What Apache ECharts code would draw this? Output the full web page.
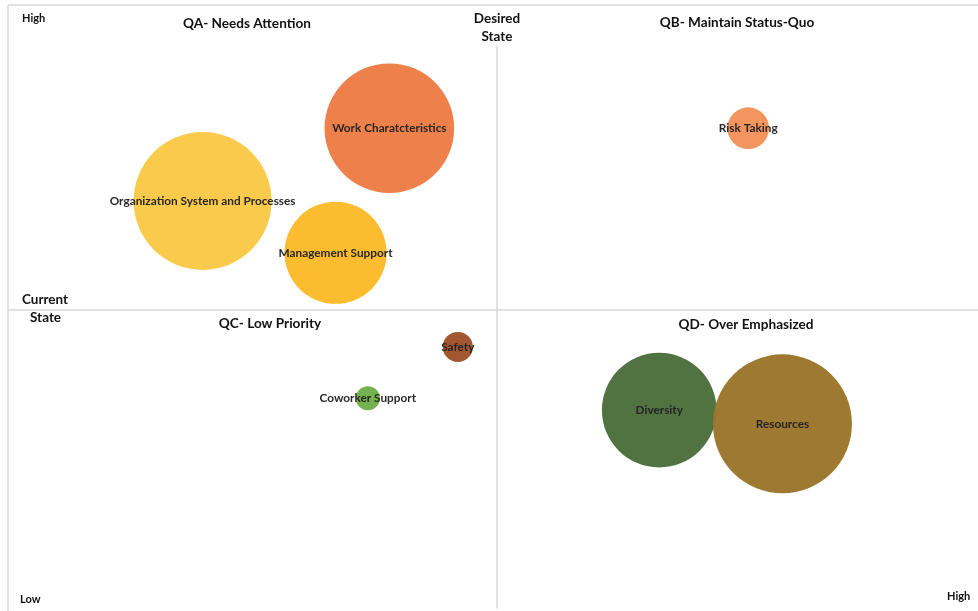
<!DOCTYPE html>
<html>
<head>
<meta charset="utf-8">
<script src="https://cdn.jsdelivr.net/npm/echarts@6/dist/echarts.min.js"></script>
<style>html,body{margin:0;padding:0;background:#fff}#c{width:978px;height:611px}</style>
</head>
<body>
<div id="c"></div>
<script>
// Data
const names = ["Work Charatcteristics","Organization System and Processes","Management Support","Risk Taking","Safety","Coworker Support","Diversity","Resources"];
const desired = [-1.10,-3.01,-1.65,2.57,-0.40,-1.32,1.66,2.92];   // x
const current = [3.05,1.83,0.96,3.05,-0.62,-1.48,-1.68,-1.91];    // y
const sizes = [87,98.6,54,9,4.7,3,68,100];
const colors = ["#ED7D45","#FAC846","#FBBB28","#F4915A","#A0522A","#6EAF46","#4B6E3C","#9B752A"];

const quadrantTitles = [
  {text:"QA- Needs Attention", x:247, y:24},
  {text:"QB- Maintain Status-Quo", x:737, y:23},
  {text:"QC- Low Priority", x:270, y:324},
  {text:"QD- Over Emphasized", x:746, y:325}
];

const chart = echarts.init(document.getElementById('c'));
const data = names.map((n,i)=>({name:n, value:[desired[i], current[i], sizes[i]], itemStyle:{color:colors[i]}}));

const lineColor = '#D9D9D9';
const txt = (t,x,y,size,align)=>({type:'text', x:x, y:y, silent:true, z:10,
  style:{text:t, fill:'#111', font:'bold '+size+'px Lato', textAlign:align||'center', textVerticalAlign:'middle'}});

chart.setOption({
  animation:false,
  grid:{left:8, right:0, top:12, bottom:3, show:false},
  xAxis:{type:'value', min:-5, max:4.92, axisLine:{onZero:true, lineStyle:{color:lineColor, width:1.5}},
    axisTick:{show:false}, axisLabel:{show:false}, splitLine:{show:false}},
  yAxis:{type:'value', min:-5, max:5, axisLine:{onZero:true, lineStyle:{color:lineColor, width:1.5}},
    axisTick:{show:false}, axisLabel:{show:false}, splitLine:{show:false}},
  series:[{
    type:'scatter',
    data:data,
    symbolSize:(v)=>139*Math.sqrt(v[2]/100),
    itemStyle:{opacity:0.97},
    label:{show:true, position:'inside', formatter:'{b}', color:'#222',
      fontFamily:'Lato', fontWeight:'bold', fontSize:11.8}
  }],
  graphic:[
    {type:'line', silent:true, shape:{x1:8,y1:5,x2:978,y2:5}, style:{stroke:lineColor, lineWidth:1.5}},
    {type:'line', silent:true, shape:{x1:8,y1:5,x2:8,y2:611}, style:{stroke:lineColor, lineWidth:1.5}},
    {type:'rect', silent:true, z:9, shape:{x:472,y:6,width:50,height:40}, style:{fill:'#fff'}},
    ...quadrantTitles.map(q=>txt(q.text,q.x,q.y,13.6)),
    txt("Desired",497,19,13.5), txt("State",497,37,13.5),
    txt("Current",22,300,13.5,'left'), txt("State",30,318,13.5,'left'),
    txt("High",22,18,11,'left'), txt("Low",20,599,11,'left'), txt("High",947,596,11,'left')
  ]
});
</script>
</body>
</html>
